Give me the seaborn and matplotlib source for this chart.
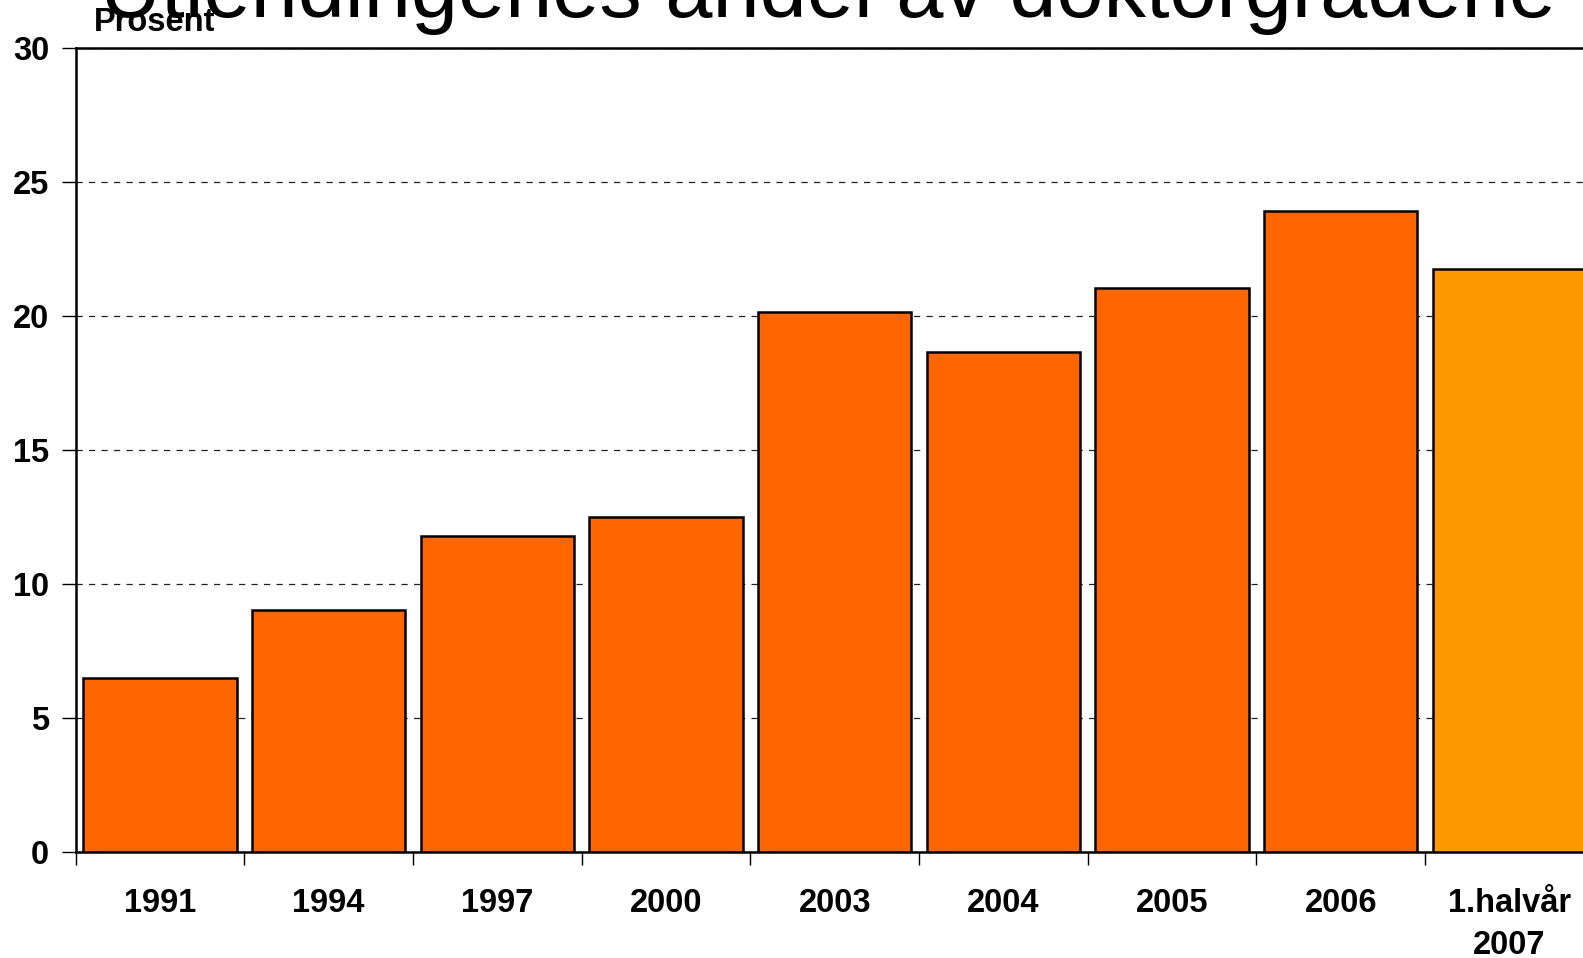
import matplotlib
matplotlib.use("Agg")
import matplotlib.pyplot as plt
import seaborn as sns
import numpy as np

categories = ["1991", "1994", "1997", "2000", "2003", "2004", "2005", "2006", "1.halvår\n2007"]
values = [6.5, 9.05, 11.8, 12.5, 20.15, 18.65, 21.05, 23.95, 21.75]
bar_colors = ["#FF6600"] * 8 + ["#FF9900"]
yticks = [0, 5, 10, 15, 20, 25, 30]
title = "Utlendingenes andel av doktorgradene"
ylabel = "Prosent"

sns.set_theme(style="white")
plt.rcParams["font.family"] = ["Liberation Sans", "DejaVu Sans"]
plt.rcParams["text.color"] = "black"
plt.rcParams["xtick.color"] = "black"
plt.rcParams["ytick.color"] = "black"
plt.rcParams["xtick.labelcolor"] = "black"
plt.rcParams["ytick.labelcolor"] = "black"

fig = plt.figure(figsize=(15.83, 9.58), dpi=100)
ax = fig.add_axes([0.0478, 0.1107, 0.959, 0.8387])

sns.barplot(x=categories, y=values, hue=categories, palette=bar_colors,
            legend=False, width=0.91, edgecolor="black", linewidth=1.8,
            saturation=1, ax=ax, zorder=3)

ax.set_xlim(-0.5, len(categories) - 0.5)
ax.set_ylim(0, 30)
ax.set_yticks(yticks)
ax.set_yticklabels([str(t) for t in yticks], fontsize=23.5, fontweight="bold", color="black")
ax.yaxis.grid(True, linestyle=(0, (5, 5)), color="#222222", linewidth=0.9, zorder=0)
ax.xaxis.grid(False)
ax.set_axisbelow(True)

ax.set_xticks(range(len(categories)))
ax.set_xticklabels(categories, fontsize=23.5, fontweight="bold", linespacing=1.45, color="black")
ax.set_xticks(np.arange(-0.5, len(categories), 1.0), minor=True)
ax.tick_params(axis="x", which="major", length=0, pad=26)
ax.tick_params(axis="x", which="minor", length=9, width=1, color="black", direction="out", bottom=True)
ax.tick_params(axis="y", which="major", length=10, width=1, color="black", direction="out", left=True, pad=9)
ax.set_xlabel("")
ax.set_ylabel("")

for side in ["left", "bottom", "top"]:
    ax.spines[side].set_visible(True)
    ax.spines[side].set_color("black")
    ax.spines[side].set_linewidth(1.8)
ax.spines["right"].set_visible(False)

fig.text(0.523, 0.982, title, fontsize=61, ha="center", va="baseline", color="black")
fig.text(0.0594, 0.968, ylabel, fontsize=23.5, fontweight="bold", ha="left", va="baseline", color="black")

fig.savefig("out.png", dpi=100)
